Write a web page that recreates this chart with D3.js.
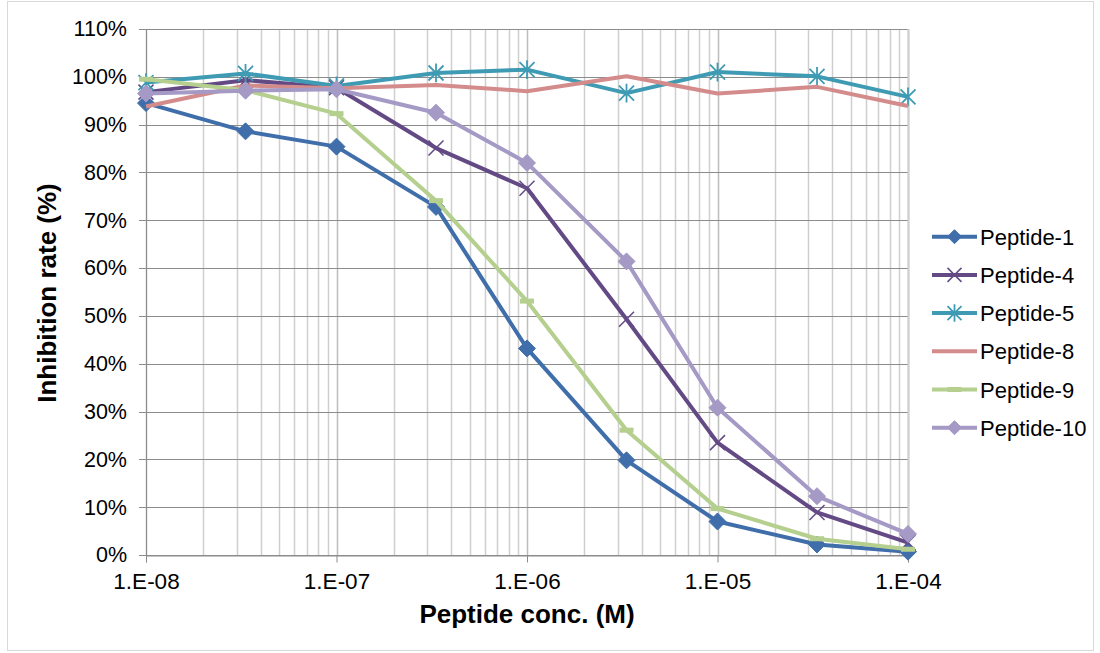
<!DOCTYPE html>
<html>
<head>
<meta charset="utf-8">
<script src="https://cdn.jsdelivr.net/npm/d3@7"></script>
<style>
  body { margin: 0; background: #fff; }
  svg text { font-family: "Liberation Sans", Arial, sans-serif; fill: #000; }
</style>
</head>
<body>
<svg id="chart" width="1100" height="653"></svg>
<script>
// ---- data ----
const concentrations = [1e-8, 3.33e-8, 1e-7, 3.33e-7, 1e-6, 3.33e-6, 1e-5, 3.33e-5, 1e-4];
const seriesNames = ["Peptide-1", "Peptide-4", "Peptide-5", "Peptide-8", "Peptide-9", "Peptide-10"];
const peptide1  = [94.5, 88.6, 85.4, 72.8, 43.2, 19.8, 7.0, 2.2, 0.7];
const peptide4  = [96.8, 99.3, 97.7, 85.1, 76.7, 49.3, 23.5, 8.9, 2.6];
const peptide5  = [98.8, 100.7, 98.1, 100.8, 101.5, 96.6, 101.0, 100.1, 95.8];
const peptide8  = [93.8, 98.2, 97.6, 98.3, 97.0, 100.1, 96.5, 97.9, 93.9];
const peptide9  = [99.5, 97.2, 92.3, 74.1, 53.1, 26.1, 9.7, 3.4, 1.2];
const peptide10 = [96.5, 97.1, 97.4, 92.5, 82.0, 61.4, 30.8, 12.3, 4.4];
const seriesValues = [peptide1, peptide4, peptide5, peptide8, peptide9, peptide10];
const seriesColors = ["#3F6EAA", "#634A85", "#3F9BB3", "#D38C8B", "#B4CF8E", "#A599C5"];
const seriesMarkers = ["diamond", "x", "asterisk", "none", "dash", "diamond"];
const xTickValues = [1e-8, 1e-7, 1e-6, 1e-5, 1e-4];
const xTickLabels = ["1.E-08", "1.E-07", "1.E-06", "1.E-05", "1.E-04"];
const yTickValues = [0, 10, 20, 30, 40, 50, 60, 70, 80, 90, 100, 110];
const xTitle = "Peptide conc. (M)";
const yTitle = "Inhibition rate (%)";

// ---- layout ----
const svg = d3.select("#chart");
const pL = 146, pR = 908, pT = 29, pB = 555;
const x = d3.scaleLog().domain([1e-8, 1e-4]).range([pL, pR]);
const y = d3.scaleLinear().domain([0, 110]).range([pB, pT]);

// chart border
svg.append("rect").attr("x", 7.5).attr("y", 1.5).attr("width", 1086).attr("height", 649)
  .attr("fill", "none").attr("stroke", "#d9d9d9").attr("stroke-width", 1);

// minor vertical gridlines
const minor = [];
for (let e = -8; e < -4; e++) for (let m = 2; m <= 9; m++) minor.push(m * Math.pow(10, e));
const g = svg.append("g");
g.selectAll(".vminor").data(minor).enter().append("line")
  .attr("x1", d => Math.round(x(d)) + 0.5).attr("x2", d => Math.round(x(d)) + 0.5)
  .attr("y1", pT).attr("y2", pB).attr("stroke", "#cfcfcf").attr("stroke-width", 1.5);
g.selectAll(".vmajor").data(xTickValues).enter().append("line")
  .attr("x1", d => Math.round(x(d)) + 0.5).attr("x2", d => Math.round(x(d)) + 0.5)
  .attr("y1", pT).attr("y2", pB).attr("stroke", "#bdbdbd").attr("stroke-width", 1.5);
// horizontal gridlines
g.selectAll(".hgrid").data(yTickValues).enter().append("line")
  .attr("x1", pL - 7).attr("x2", pR)
  .attr("y1", d => Math.round(y(d)) + 0.5).attr("y2", d => Math.round(y(d)) + 0.5)
  .attr("stroke", "#8c8c8c").attr("stroke-width", 1);
// right edge
g.append("line").attr("x1", pR + 0.5).attr("x2", pR + 0.5).attr("y1", pT).attr("y2", pB)
  .attr("stroke", "#cfcfcf").attr("stroke-width", 2);

// axes
const yAxis = d3.axisLeft(y).tickValues(yTickValues).tickFormat(d => d + "%").tickSize(0).tickPadding(19);
const yg = svg.append("g").attr("transform", `translate(${pL},0)`).call(yAxis);
yg.select(".domain").attr("stroke", "#8c8c8c");
yg.selectAll("text").attr("font-size", 21.5).attr("font-family", "Liberation Sans, Arial, sans-serif");

const xAxis = d3.axisBottom(x).tickValues(xTickValues).tickFormat((d, i) => xTickLabels[i]).tickSize(7).tickPadding(11);
const xg = svg.append("g").attr("transform", `translate(0,${pB + 0.5})`).call(xAxis);
xg.select(".domain").attr("stroke", "#8c8c8c");
xg.selectAll(".tick line").attr("stroke", "#8c8c8c");
xg.selectAll("text").attr("font-size", 22.5).attr("font-family", "Liberation Sans, Arial, sans-serif");

// titles
svg.append("text").attr("x", 527).attr("y", 623).attr("text-anchor", "middle")
  .attr("font-size", 26).attr("font-weight", "bold").text(xTitle);
svg.append("text").attr("transform", `translate(56,293) rotate(-90)`)
  .attr("text-anchor", "middle").attr("font-size", 26).attr("font-weight", "bold").text(yTitle);

// markers
function drawMarker(sel, type, color, cx, cy, s) {
  if (type === "diamond") {
    sel.append("path").attr("d", `M${cx},${cy - s}L${cx + s},${cy}L${cx},${cy + s}L${cx - s},${cy}Z`)
      .attr("fill", color).attr("stroke", color).attr("stroke-width", 1);
  } else if (type === "x") {
    sel.append("path").attr("d", `M${cx - s},${cy - s}L${cx + s},${cy + s}M${cx - s},${cy + s}L${cx + s},${cy - s}`)
      .attr("stroke", color).attr("stroke-width", 1.5).attr("fill", "none");
  } else if (type === "asterisk") {
    sel.append("path").attr("d", `M${cx - s},${cy - s}L${cx + s},${cy + s}M${cx - s},${cy + s}L${cx + s},${cy - s}M${cx},${cy - s * 1.25}L${cx},${cy + s * 1.25}`)
      .attr("stroke", color).attr("stroke-width", 1.8).attr("fill", "none");
  } else if (type === "dash") {
    sel.append("rect").attr("x", cx - s).attr("y", cy - 2.5).attr("width", 2 * s).attr("height", 5)
      .attr("fill", color);
  }
}

const line = d3.line().x(d => x(d[0])).y(d => y(d[1]));
seriesNames.forEach((name, i) => {
  const pts = concentrations.map((c, j) => [c, seriesValues[i][j]]);
  const sg = svg.append("g");
  sg.append("path").attr("d", line(pts)).attr("fill", "none")
    .attr("stroke", seriesColors[i]).attr("stroke-width", 4).attr("stroke-linejoin", "round");
  const size = seriesMarkers[i] === "dash" ? 7 : (seriesMarkers[i] === "diamond" ? 8.5 : 7.5);
  pts.forEach(p => drawMarker(sg, seriesMarkers[i], seriesColors[i], x(p[0]), y(p[1]), size));
});

// legend
const legY0 = 236.7, legStep = 38.2;
seriesNames.forEach((name, i) => {
  const ly = legY0 + i * legStep;
  const lg = svg.append("g");
  lg.append("line").attr("x1", 932).attr("x2", 977).attr("y1", ly).attr("y2", ly)
    .attr("stroke", seriesColors[i]).attr("stroke-width", 4);
  drawMarker(lg, seriesMarkers[i], seriesColors[i], 954.5, ly, 7);
  lg.append("text").attr("x", 980).attr("y", ly + 8).attr("font-size", 22).text(name);
});
</script>
</body>
</html>
